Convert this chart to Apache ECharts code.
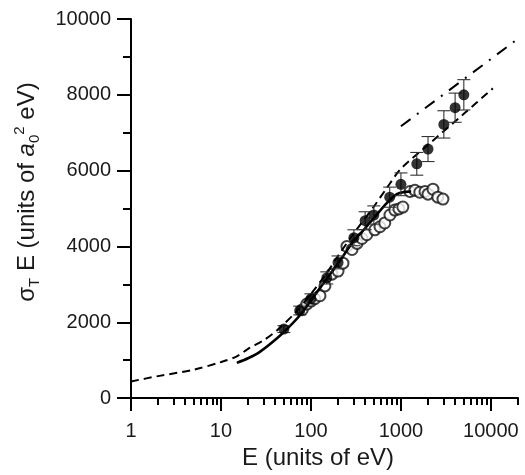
<!DOCTYPE html>
<html><head><meta charset="utf-8">
<script src="https://cdn.jsdelivr.net/npm/echarts@6/dist/echarts.min.js"></script>
<style>html,body{margin:0;padding:0;background:#fff}#c{width:525px;height:475px}</style>
</head><body><div id="c"></div>
<script>
// ---- data ----
const xMajorTicks = [1, 10, 100, 1000, 10000];
const xMinorTicks = [2,3,4,5,6,7,8,9,20,30,40,50,60,70,80,90,200,300,400,500,600,700,800,900,2000,3000,4000,5000,6000,7000,8000,9000,20000];
const yTicks = [0, 2000, 4000, 6000, 8000, 10000];

// filled circles with error bars
const filledE   = [50, 75, 100, 150, 200, 300, 400, 500, 750, 1000, 1500, 2000, 3000, 4000, 5000];
const filledY   = [1820, 2310, 2620, 3170, 3580, 4230, 4680, 4830, 5300, 5640, 6180, 6570, 7220, 7660, 8000];
const filledErr = [90, 115, 130, 160, 170, 210, 235, 240, 265, 300, 300, 330, 360, 385, 400];

// open circles
const openE = [80, 90, 100, 110, 126, 143, 171, 200, 227, 251, 286, 325, 369, 417, 513, 585, 661, 755, 855, 950, 1050, 1260, 1430, 1620, 1850, 2000, 2270, 2570, 2930];
const openY = [2330, 2480, 2560, 2620, 2700, 2960, 3270, 3350, 3560, 4000, 3920, 4080, 4210, 4310, 4440, 4520, 4620, 4830, 4960, 4990, 5040, 5450, 5480, 5430, 5450, 5380, 5510, 5300, 5250];

// solid curve
const solidE = [15, 20, 27, 42, 55, 75, 105, 150, 200, 300, 400, 500, 700, 900, 1100, 1300];
const solidY = [930, 1050, 1220, 1580, 1840, 2180, 2650, 3150, 3550, 4150, 4480, 4750, 5150, 5380, 5440, 5450];

// dashed curve
const dashE = [1, 2, 5, 10, 15, 20, 30, 42, 70, 100, 150, 200, 300, 500, 700, 1000, 2000, 5000, 10500];
const dashY = [440, 580, 750, 950, 1100, 1300, 1530, 1790, 2300, 2750, 3300, 3750, 4350, 5050, 5550, 6050, 6680, 7500, 8170];

// dash-dot line
const dashDotE = [1000, 20000];
const dashDotY = [7170, 9480];

// ---- chart ----
const FONT = '"Liberation Sans", Arial, Helvetica, sans-serif';
const TXT = '#1a1a1a';
const zip = (a, b) => a.map((v, i) => [v, b[i]]);
const chart = echarts.init(document.getElementById('c'), null, {renderer: 'canvas'});

const baseX = {
  type: 'log', logBase: 10, min: 1, max: 20000, gridIndex: 0, position: 'bottom',
  splitLine: {show: false}, minorTick: {show: false}, minorSplitLine: {show: false}
};

chart.setOption({
  animation: false,
  backgroundColor: '#fff',
  textStyle: {fontFamily: FONT},
  grid: {left: 131, right: 7, top: 19, bottom: 71, containLabel: false},
  xAxis: [
    Object.assign({}, baseX, {
      name: 'E (units of eV)', nameLocation: 'middle', nameGap: 42,
      nameTextStyle: {fontFamily: FONT, fontSize: 24, color: TXT, padding: [0, 13, 0, 0]},
      axisLine: {show: true, lineStyle: {color: '#000', width: 2}},
      axisTick: {show: true, customValues: xMajorTicks, length: 13, lineStyle: {color: '#000', width: 2}},
      axisLabel: {customValues: xMajorTicks, margin: 23, fontFamily: FONT, fontSize: 20, color: TXT,
                  formatter: v => String(Math.round(v))}
    }),
    Object.assign({}, baseX, {
      axisLine: {show: false},
      axisTick: {show: true, customValues: xMinorTicks, length: 7, lineStyle: {color: '#000', width: 2}},
      axisLabel: {show: false}
    })
  ],
  yAxis: {
    type: 'value', min: 0, max: 10000, interval: 2000,
    name: '{n|σ}{sub|T}{n| E (units of }{i|a}{sub|0}{sup|2}{n| eV)}',
    nameLocation: 'middle', nameGap: 89, nameRotate: 90,
    nameTextStyle: {
      fontFamily: FONT, fontSize: 24, color: TXT, padding: [0, 0, 0, 33],
      rich: {
        n: {fontFamily: FONT, fontSize: 24, color: TXT, lineHeight: 30},
        i: {fontFamily: FONT, fontSize: 24, color: TXT, fontStyle: 'italic', lineHeight: 30},
        sub: {fontFamily: FONT, fontSize: 15, color: TXT, verticalAlign: 'bottom', lineHeight: 15},
        sup: {fontFamily: FONT, fontSize: 15, color: TXT, verticalAlign: 'top', lineHeight: 15}
      }
    },
    axisLine: {show: true, lineStyle: {color: '#000', width: 2}},
    axisTick: {show: true, length: 14, lineStyle: {color: '#000', width: 2}},
    minorTick: {show: true, splitNumber: 2, length: 8, lineStyle: {color: '#000', width: 2}},
    splitLine: {show: false},
    axisLabel: {margin: 20, fontFamily: FONT, fontSize: 20, color: TXT, formatter: v => String(v)}
  },
  series: [
    {
      type: 'scatter', name: 'open', data: zip(openE, openY),
      symbol: 'emptyCircle', symbolSize: 11, z: 2,
      itemStyle: {color: '#111', borderColor: '#111', borderWidth: 1.3}
    },
    {
      type: 'line', name: 'dashed', data: zip(dashE, dashY), showSymbol: false, smooth: 0.3, z: 3,
      lineStyle: {color: '#000', width: 2, type: [8, 5]}
    },
    {
      type: 'line', name: 'solid', data: zip(solidE, solidY), showSymbol: false, smooth: 0.3, z: 3,
      lineStyle: {color: '#000', width: 2.6}
    },
    {
      type: 'line', name: 'dashdot', data: zip(dashDotE, dashDotY), showSymbol: false, z: 3,
      lineStyle: {color: '#000', width: 2, type: [12, 8, 2, 8]}
    },
    {
      type: 'custom', name: 'err', z: 4,
      data: filledE.map((e, i) => [e, filledY[i] - filledErr[i], filledY[i] + filledErr[i]]),
      encode: {x: 0, y: [1, 2]},
      renderItem: (params, api) => {
        const x = api.value(0);
        const p1 = api.coord([x, api.value(2)]);
        const p2 = api.coord([x, api.value(1)]);
        const w = 6.5;
        const st = {stroke: '#333', lineWidth: 1.1};
        return {type: 'group', children: [
          {type: 'line', shape: {x1: p1[0], y1: p1[1], x2: p2[0], y2: p2[1]}, style: st},
          {type: 'line', shape: {x1: p1[0] - w, y1: p1[1], x2: p1[0] + w, y2: p1[1]}, style: st},
          {type: 'line', shape: {x1: p2[0] - w, y1: p2[1], x2: p2[0] + w, y2: p2[1]}, style: st}
        ]};
      }
    },
    {
      type: 'scatter', name: 'filled', data: zip(filledE, filledY),
      symbol: 'circle', symbolSize: 11, z: 5,
      itemStyle: {color: '#000'}
    }
  ]
});
</script>
</body></html>
